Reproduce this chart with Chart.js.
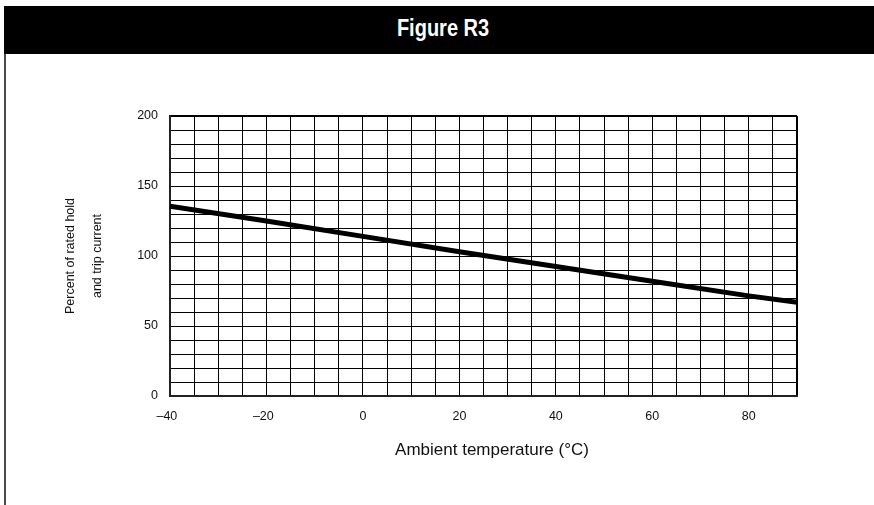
<!DOCTYPE html>
<html>
<head>
<meta charset="utf-8">
<title>Figure R3</title>
<script src="https://cdn.jsdelivr.net/npm/chart.js@4/dist/chart.umd.min.js"></script>
<style>
html, body { margin: 0; padding: 0; background: #fff; }
body { width: 874px; height: 505px; position: relative; overflow: hidden; }
#frameLine { position: absolute; left: 4px; top: 6px; bottom: 0; width: 2px; background: #4a4a4a; }
#header {
  position: absolute; left: 4px; right: 0; top: 6px; height: 47.5px;
  background: #000; color: #fff; text-align: center;
  font-family: "Liberation Sans", Arial, Helvetica, sans-serif;
  font-weight: bold; font-size: 23px; line-height: 44px; padding-left: 8px; box-sizing: border-box;
}
/* condensed look for the heading */
#header span { display: inline-block; transform: scaleX(0.87); }
#chartCanvas { position: absolute; left: 0; top: 0; }
</style>
</head>
<body>

<div id="frameLine"></div>
<div id="header"><span>Figure R3</span></div>
<canvas id="chartCanvas" width="874" height="505"></canvas>

<script>

// ---------- DATA ----------

// ambient temperature, °C
const tempC = [-40, -20, 0, 20, 40, 60, 80, 90];

// percent of rated hold and trip current
const percentRated = [135.5, 125, 114, 103, 92.5, 82, 71.5, 67];

// axis ranges and grid steps
const xRange = [-40, 90];
const yRange = [0, 200];
const xGridStep = 5;
const yGridStep = 10;
const xLabelEvery = 20;
const yLabelEvery = 50;


// ---------- CHART ----------

document.addEventListener("DOMContentLoaded", function(){

createChart();

});


// label only every 20 °C; negative values get an en dash hanging to the left
function xTickLabel(value){

if(value % xLabelEvery !== 0) return "";

if(value < 0) return "\u2013" + Math.abs(value) + "\u2002";

return String(value);

}


function yTickLabel(value){

return value % yLabelEvery === 0 ? String(value) : "";

}


function createChart(){

const ctx = document.getElementById("chartCanvas");

Chart.defaults.font.family = "'Liberation Sans', Arial, Helvetica, sans-serif";
Chart.defaults.color = "#111";

const points = tempC.map((t, i) => ({ x: t, y: percentRated[i] }));

new Chart(ctx, {

type: "line",

data: {

datasets: [{

data: points,

borderColor: "#000",

borderWidth: 5,

borderCapStyle: "butt",

pointRadius: 0,

tension: 0,

fill: false

}]

},

options: {

responsive: false,

animation: false,

layout: {

padding: { left: 0, right: 77, top: 116, bottom: 0 }

},

plugins: {

legend: { display: false },

tooltip: { enabled: false }

},

scales: {

x: {

type: "linear",

min: xRange[0],

max: xRange[1],

afterFit: scale => { scale.height = 109; },

grid: {

color: "#000",

lineWidth: c => (c.tick && c.tick.value === xRange[1]) ? 2 : 1,

drawTicks: false

},

border: { color: "#222", width: 2 },

ticks: {

stepSize: xGridStep,

autoSkip: false,

maxRotation: 0,

padding: 13,

font: { size: 12.5 },

callback: xTickLabel

},

title: {

display: true,

text: "\u2003Ambient temperature (\u00B0C)",

font: { size: 17 },

color: "#111",

padding: { top: 0, bottom: 44 }

}

},

y: {

min: yRange[0],

max: yRange[1],

afterFit: scale => { scale.width = 170; },

grid: {

color: "#000",

lineWidth: c => (c.tick && c.tick.value === yRange[1]) ? 2 : 1,

drawTicks: false

},

border: { color: "#222", width: 2 },

ticks: {

stepSize: yGridStep,

autoSkip: false,

padding: 12,

font: { size: 12.5 },

callback: yTickLabel

},

title: {

display: true,

text: ["Percent of rated hold", "and trip current"],

font: { size: 12.5, lineHeight: 2.12 },

color: "#111",

padding: { top: 57.75, bottom: 0 }

}

}

}

}

});

}

</script>
</body>
</html>
